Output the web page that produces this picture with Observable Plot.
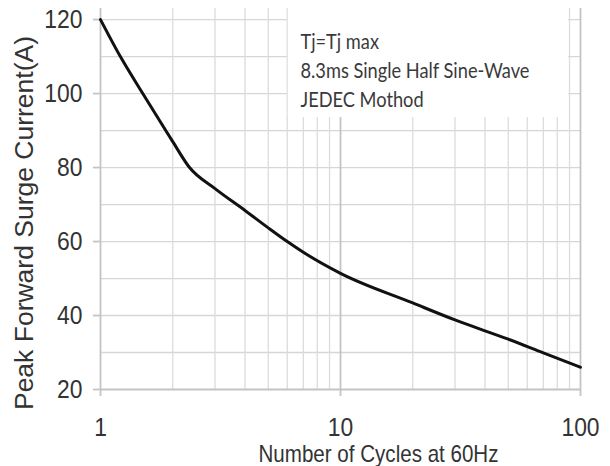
<!DOCTYPE html>
<html>
<head>
<meta charset="utf-8">
<script src="https://cdn.jsdelivr.net/npm/d3@7"></script>
<script src="https://cdn.jsdelivr.net/npm/@observablehq/plot@0.6"></script>
<style>
  html, body { margin: 0; padding: 0; background: #fff; }
</style>
</head>
<body>
<div id="chart"></div>
<script>
// Data
const cycles  = [1, 1.21, 1.5, 1.87, 2, 2.35, 3, 4, 5, 6, 7, 10, 20, 30, 50, 70, 100];
const current = [120, 110, 100, 90, 87.0, 80, 74.3, 68.4, 63.7, 60, 57.1, 51.4, 43.4, 38.8, 33.6, 29.9, 26];

const xMajorTicks = [1, 10, 100];
const xMinorGrid = [2, 3, 4, 5, 6, 7, 8, 9, 20, 30, 40, 50, 60, 70, 80, 90];
const xMajorGrid = [1, 10, 100];
const yTicks = [20, 40, 60, 80, 100, 120];
const yGrid = [30, 40, 50, 60, 70, 80, 90, 100, 110, 120];
const yBase = [20];

const xLabel = "Number of Cycles at 60Hz";
const yLabel = "Peak Forward Surge Current(A)";
const noteLines = ["Tj=Tj max", "8.3ms Single Half Sine-Wave", "JEDEC Mothod"];
const notePos = [{x: 6.81, y: 117.7}];
const noteBox = [{x1: 6.06, x2: 89, y1: 93.5, y2: 123}];

const data = cycles.map((c, i) => ({c, a: current[i]}));

const sans = "'Liberation Sans', Arial, sans-serif";

const chart = Plot.plot({
  width: 610,
  height: 466,
  marginLeft: 100,
  marginRight: 30,
  marginTop: 8,
  marginBottom: 77,
  style: {background: "#fff", fontFamily: sans, overflow: "visible"},
  x: {type: "log", domain: [1, 100]},
  y: {domain: [20, 123]},
  marks: [
    Plot.ruleY(yGrid, {x1: 1, x2: 100, stroke: "#d6d6d6", strokeWidth: 1.3}),
    Plot.ruleX(xMinorGrid, {y1: 20, y2: 123, stroke: "#dcdcdc", strokeWidth: 1.3}),
    Plot.ruleX(xMajorGrid, {y1: 20, y2: 123, stroke: "#c4c4c4", strokeWidth: 1.8}),
    Plot.ruleY(yBase, {x1: 1, x2: 100, stroke: "#c4c4c4", strokeWidth: 1.8}),
    Plot.rect(noteBox, {x1: "x1", x2: "x2", y1: "y1", y2: "y2", fill: "#fff"}),
    Plot.axisX({ticks: xMajorTicks, tickSize: 7, tickPadding: 21, stroke: "#c4c4c4", strokeWidth: 1.8,
      tickFormat: d => String(d), fontSize: 26, fill: "#333", label: null, className: "sq"}),
    Plot.axisY({ticks: yTicks, tickSize: 7, tickPadding: 11, stroke: "#c4c4c4", strokeWidth: 1.8,
      fontSize: 26, fill: "#333", label: null, className: "sq"}),
    Plot.line(data, {x: "c", y: "a", stroke: "#111", strokeWidth: 3, curve: "monotone-x"}),
    Plot.text(notePos, {x: "x", y: "y", text: () => noteLines.join("\n"), textAnchor: "start",
      lineAnchor: "top", lineHeight: 1.38, fontSize: 21, fill: "#3a3a3a",
      fontFamily: "Lato, 'Open Sans', sans-serif", className: "note"}),
    Plot.text([xLabel], {frameAnchor: "bottom", dx: 38, dy: 65, lineAnchor: "middle", textAnchor: "middle",
      fontSize: 24, fill: "#333", className: "xlab"}),
    Plot.text([yLabel], {frameAnchor: "left", rotate: -90, dx: -76, dy: 24, lineAnchor: "middle",
      textAnchor: "middle", fontSize: 26.5, fill: "#333"})
  ]
});
document.getElementById("chart").appendChild(chart);

// Horizontal condensing of text to match the reference's narrow lettering
function squeeze(el, factor) {
  const w = el.getComputedTextLength();
  if (w > 0) {
    el.setAttribute("textLength", (w * factor).toFixed(2));
    el.setAttribute("lengthAdjust", "spacingAndGlyphs");
  }
}
d3.select(chart).selectAll("g.sq text").each(function() { squeeze(this, 0.88); });
d3.select(chart).selectAll("g.xlab text").each(function() {
  squeeze(this, 240 / this.getComputedTextLength());
});
const noteSpans = d3.select(chart).selectAll("g.note tspan").nodes();
if (noteSpans.length === 3) {
  const f = 229 / noteSpans[1].getComputedTextLength();
  noteSpans.forEach(s => squeeze(s, f));
}
</script>
</body>
</html>
